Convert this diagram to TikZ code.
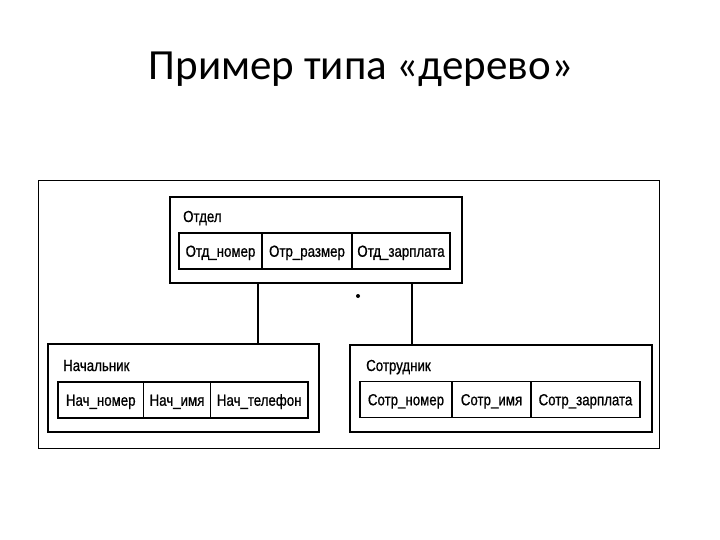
\documentclass[tikz,border=0pt]{standalone}
\usepackage{fontspec}
\setmainfont{Carlito}
\newfontfamily\cellfont[FakeStretch=0.83,FakeBold=0.8]{Liberation Sans}
\begin{document}
\begin{tikzpicture}[x=1pt,y=-1pt,
  box/.style={draw, line width=1.6pt, inner sep=0pt, minimum width=#1},
  cell/.style={draw, line width=1.6pt, inner sep=0pt, minimum height=36pt, minimum width=#1, text height=11.5pt, text depth=0pt, font=\cellfont\fontsize{16}{18}\selectfont},
  lbl/.style={anchor=base west, inner sep=0pt, font=\cellfont\fontsize{16}{18}\selectfont},
  link/.style={line width=1.4pt}]
\useasboundingbox (0,0) rectangle (720,540);
\node[inner sep=0pt, anchor=base, font=\fontsize{43}{48}\selectfont] (title) at (361,80) {Пример типа «дерево»};
\node[draw, line width=0.8pt, minimum width=621pt, minimum height=268pt, inner sep=0pt] (frame) at (348.5,314) {};
% Otdel
\node[box=292pt, minimum height=86pt] (otdel) at (316,240) {};
\node[lbl] (otdelL) at (183,222) {Отдел};
\node[cell=83pt] (o1) at (220.5,251) {Отд\_номер};
\node[cell=90pt] (o2) at (307,251) {Отр\_размер};
\node[cell=98pt] (o3) at (401,251) {Отд\_зарплата};
% Nachalnik
\node[box=271pt, minimum height=88pt] (boss) at (183.5,388) {};
\node[lbl] (bossL) at (63,371) {Начальник};
\node[cell=85.5pt] (b1) at (100.75,400) {Нач\_номер};
\node[cell=67pt] (b2) at (177,400) {Нач\_имя};
\node[cell=97.6pt] (b3) at (259.2,400) {Нач\_телефон};
% Sotrudnik
\node[box=302pt, minimum height=87pt] (emp) at (501,388.5) {};
\node[lbl] (empL) at (366,371) {Сотрудник};
\node[cell=92pt] (e1) at (406,399.5) {Сотр\_номер};
\node[cell=79pt] (e2) at (491.5,399.5) {Сотр\_имя};
\node[cell=109pt] (e3) at (585.5,399.5) {Сотр\_зарплата};
% links
\coordinate (cl) at (258,0);
\coordinate (cr) at (412,0);
\draw[link] (otdel.south -| cl) -- (boss.north -| cl);
\draw[link] (otdel.south -| cr) -- (emp.north -| cr);
\fill (358,296) circle (2pt);
\end{tikzpicture}
\end{document}
